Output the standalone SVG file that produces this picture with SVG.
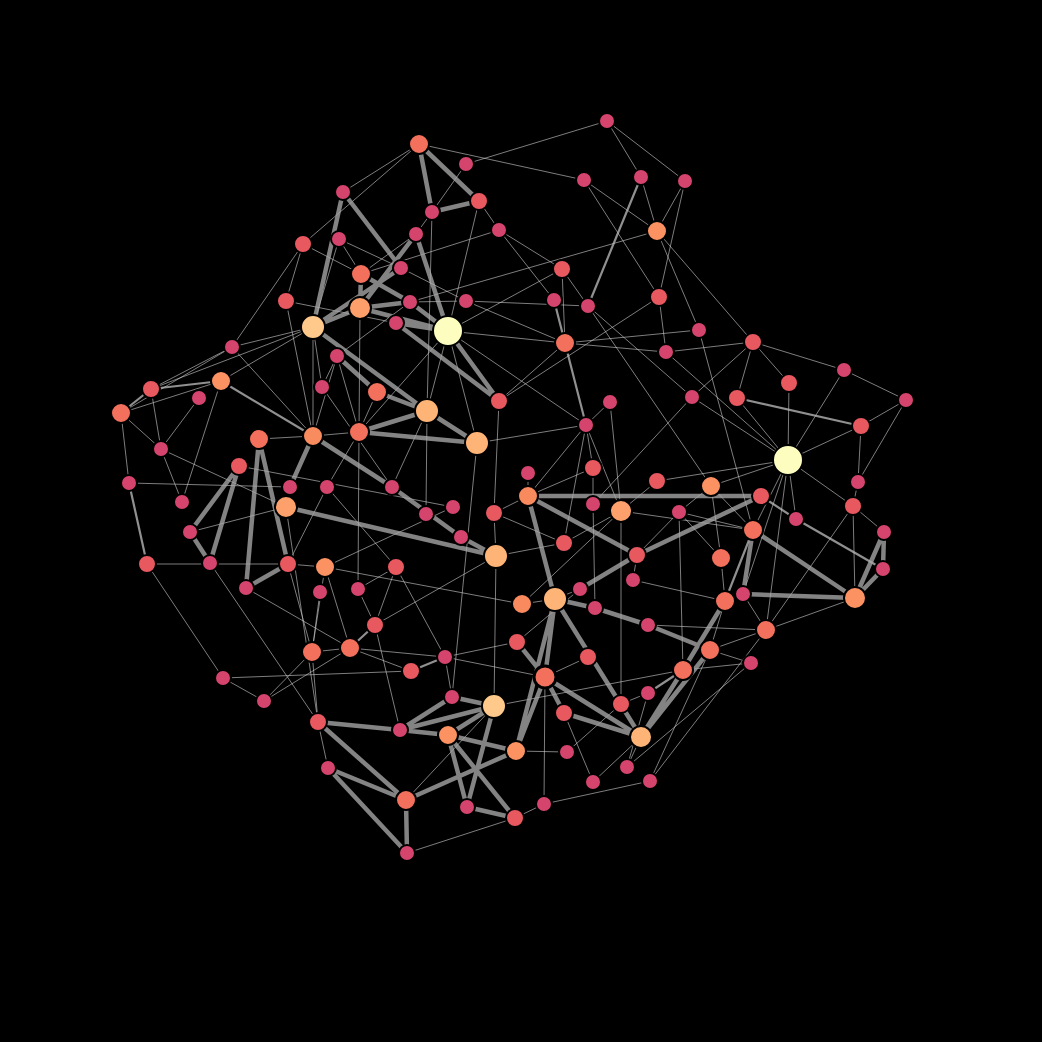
<svg xmlns="http://www.w3.org/2000/svg" width="1042" height="1042" viewBox="0 0 1042 1042">
<style>
.t{stroke:#d0d0d0;stroke-width:1;stroke-opacity:.6;fill:none}
.m{stroke:#c0c0c0;stroke-width:2.2;stroke-opacity:.75;fill:none}
.k{stroke:#a8a8a8;stroke-width:4.5;stroke-opacity:.78;fill:none}
circle{stroke:#000;stroke-width:2}
.p{fill:#d5446d}
.r{fill:#e8585f}
.c{fill:#f3705c}
.o{fill:#fc9262}
.a{fill:#feb477}
.b{fill:#fec98b}
.y{fill:#fcfdbf}
</style>
<rect width="1042" height="1042" fill="#000"/>
<g id="connectors">
<g class="t">
<path d="M419 144L343 192M419 144L303 244M419 144L584 180M466 164L607 121M466 164L432 212M607 121L641 177M607 121L685 181M641 177L657 231M685 181L657 231M685 181L659 297M584 180L657 231M584 180L659 297M657 231L699 330M657 231L753 342M657 231L410 302M659 297L499 401M659 297L666 352M499 230L562 269M499 230L479 201M499 230L554 300M499 230L361 274M562 269L565 343M562 269L588 306M410 302L466 301M466 301L588 306M466 301L565 343M401 268L466 301M448 331L565 343M448 331L562 269M479 201L448 331M432 212L427 411M432 212L416 234M361 274L416 234"/>
<path d="M303 244L286 301M303 244L232 347M303 244L361 274M339 239L361 274M339 239L401 268M339 239L313 327M286 301L396 323M286 301L313 436M232 347L151 389M232 347L121 413M232 347L313 327M232 347L313 436M313 327L313 436M313 327L322 387M313 327L151 389M360 308L359 432M359 432L358 589M337 356L322 387M337 356L313 436M337 356L359 432M337 356L410 302M377 392L359 432M448 331L427 411M448 331L477 443M448 331L586 425M448 331L359 432M499 401L494 513M499 401L565 343M427 411L392 487M427 411L426 514M359 432L327 487M359 432L313 436M477 443L452 697M477 443L586 425M494 513L496 556M494 513L528 496M496 556L494 706M496 556L564 543"/>
<path d="M586 425L610 402M586 425L621 511M610 402L621 511M586 425L528 496M586 425L564 543M586 425L593 468M593 468L528 496M593 468L593 504M593 504L595 608M621 511L621 704M621 511L657 481M621 511L564 543M621 511L522 604M621 511L753 530M692 397L593 504M657 481L788 460M711 486L679 512M711 486L721 558M711 486L753 530M711 486L788 460M679 512L683 670M679 512L637 555M679 512L753 530M637 555L633 580M633 580L725 601M721 558L725 601M721 558L679 512M565 343L699 330M565 343L666 352M588 306L692 397M588 306L711 486M699 330L753 530M666 352L788 460M692 397L788 460M666 352L753 342M753 342L737 398M753 342L844 370M753 342L789 383M753 342L692 397M844 370L906 400M844 370L788 460M789 383L788 460M737 398L788 460M906 400L861 426M906 400L858 482M861 426L858 482M861 426L788 460M788 460L853 506M788 460L796 519M788 460L753 530M788 460L766 630M788 460L743 594M853 506L855 598M853 506L884 532M858 482L853 506M853 506L766 630M855 598L766 630M766 630L743 594M648 625L766 630M710 650L751 663M650 781L766 630M650 781L544 804M650 781L710 650M544 804L515 818M545 677L544 804M494 706L683 670M406 800L494 706M407 853L515 818"/>
<path d="M318 722L328 768M318 722L312 652M312 652L350 648M350 648L264 701M312 652L264 701M223 678L264 701M223 678L411 671M312 652L325 567M312 652L320 592M350 648L411 671M350 648L445 657M375 625L400 730M375 625L496 556M375 625L396 567M358 589L375 625M358 589L396 567M396 567L445 657M396 567L327 487M325 567L453 507M325 567L522 604M325 567L288 564M325 567L350 648M288 564L312 652M288 564L327 487M286 507L318 722M246 588L350 648M210 563L318 722M147 564L223 678M147 564L288 564M129 483L290 487M190 532L286 507M161 449L286 507M161 449L182 502M199 398L161 449M221 381L182 502M121 413L161 449M121 413L129 483M121 413L221 381M151 389L161 449M221 381L313 327M322 387L392 487M259 439L313 436M239 466L453 507M445 657L452 697M445 657L545 677M445 657L517 642M528 496L528 473M522 604L555 599M580 589L555 599M517 642L580 589M564 543L494 513M588 657L545 677M621 704L648 693M627 767L648 693M593 782L564 713M567 752L621 704M516 751L567 752M641 737L627 767M641 737L593 782M627 767L751 663M683 670L751 663M766 630L710 650M710 650L725 601"/>
</g>
<g class="m">
<path d="M641 177L588 306M554 300L565 343M565 343L586 425M761 496L796 519M725 601L753 530M648 693L683 670M221 381L313 436M151 389L221 381M121 413L151 389M129 483L147 564M350 648L375 625M411 671L445 657M737 398L861 426M796 519L883 569"/>
</g>
<g class="k">
<path d="M419 144L432 212M419 144L479 201M432 212L479 201M343 192L313 327M343 192L401 268M416 234L448 331M416 234L360 308M401 268L313 327M313 327L360 308M361 274L360 308M361 274L410 302M360 308L410 302M360 308L448 331M410 302L448 331M396 323L448 331M396 323L499 401M448 331L499 401M313 327L427 411M337 356L377 392M377 392L427 411M427 411L477 443M359 432L427 411M359 432L477 443M313 436L290 487M259 439L246 588M259 439L288 564M246 588L288 564M239 466L210 563M239 466L190 532M190 532L210 563M286 507L496 556M313 436L392 487M392 487L461 537M461 537L496 556"/>
<path d="M528 496L761 496M528 496L637 555M528 496L555 599M637 555L761 496M580 589L637 555M753 530L855 598M753 530L743 594M743 594L855 598M855 598L884 532M855 598L883 569M884 532L883 569M683 670L725 601M641 737L683 670M641 737L710 650M648 625L710 650M595 608L648 625M555 599L595 608M555 599L545 677M555 599L516 751M555 599L641 737M545 677L641 737M545 677L517 642M545 677L516 751M545 677L564 713M564 713L641 737"/>
<path d="M494 706L448 735M494 706L452 697M494 706L400 730M494 706L467 807M448 735L516 751M448 735L515 818M448 735L467 807M400 730L448 735M400 730L452 697M318 722L400 730M318 722L406 800M328 768L406 800M328 768L407 853M406 800L407 853M406 800L516 751M467 807L515 818"/>
</g>
</g>
<g id="nodes">
<g id="n1"><circle class="c" cx="419" cy="144" r="10"/></g>
<g id="n2"><circle class="p" cx="466" cy="164" r="8"/></g>
<g id="n3"><circle class="p" cx="607" cy="121" r="8"/></g>
<g id="n4"><circle class="p" cx="641" cy="177" r="8"/></g>
<g id="n5"><circle class="p" cx="685" cy="181" r="8"/></g>
<g id="n6"><circle class="p" cx="584" cy="180" r="8"/></g>
<g id="n7"><circle class="p" cx="343" cy="192" r="8"/></g>
<g id="n8"><circle class="p" cx="432" cy="212" r="8"/></g>
<g id="n9"><circle class="r" cx="479" cy="201" r="9"/></g>
<g id="n10"><circle class="p" cx="499" cy="230" r="8"/></g>
<g id="n11"><circle class="p" cx="416" cy="234" r="8"/></g>
<g id="n12"><circle class="r" cx="303" cy="244" r="9"/></g>
<g id="n13"><circle class="p" cx="339" cy="239" r="8"/></g>
<g id="n14"><circle class="o" cx="657" cy="231" r="10"/></g>
<g id="n15"><circle class="r" cx="562" cy="269" r="9"/></g>
<g id="n16"><circle class="c" cx="361" cy="274" r="10"/></g>
<g id="n17"><circle class="p" cx="401" cy="268" r="8"/></g>
<g id="n18"><circle class="r" cx="286" cy="301" r="9"/></g>
<g id="n19"><circle class="o" cx="360" cy="308" r="11" style="fill:#fd9f6a"/></g>
<g id="n20"><circle class="p" cx="410" cy="302" r="8"/></g>
<g id="n21"><circle class="p" cx="466" cy="301" r="8"/></g>
<g id="n22"><circle class="p" cx="554" cy="300" r="8"/></g>
<g id="n23"><circle class="p" cx="588" cy="306" r="8"/></g>
<g id="n24"><circle class="r" cx="659" cy="297" r="9"/></g>
<g id="n25"><circle class="b" cx="313" cy="327" r="12"/></g>
<g id="n26"><circle class="p" cx="396" cy="323" r="8"/></g>
<g id="n27"><circle class="y" cx="448" cy="331" r="15"/></g>
<g id="n28"><circle class="c" cx="565" cy="343" r="10"/></g>
<g id="n29"><circle class="p" cx="699" cy="330" r="8"/></g>
<g id="n30"><circle class="p" cx="666" cy="352" r="8"/></g>
<g id="n31"><circle class="r" cx="753" cy="342" r="9"/></g>
<g id="n32"><circle class="p" cx="232" cy="347" r="8"/></g>
<g id="n33"><circle class="p" cx="337" cy="356" r="8"/></g>
<g id="n34"><circle class="p" cx="844" cy="370" r="8"/></g>
<g id="n35"><circle class="r" cx="151" cy="389" r="9"/></g>
<g id="n36"><circle class="o" cx="221" cy="381" r="10"/></g>
<g id="n37"><circle class="p" cx="199" cy="398" r="8"/></g>
<g id="n38"><circle class="c" cx="121" cy="413" r="10"/></g>
<g id="n39"><circle class="p" cx="322" cy="387" r="8"/></g>
<g id="n40"><circle class="c" cx="377" cy="392" r="10"/></g>
<g id="n41"><circle class="a" cx="427" cy="411" r="12"/></g>
<g id="n42"><circle class="r" cx="499" cy="401" r="9"/></g>
<g id="n43"><circle class="p" cx="610" cy="402" r="8"/></g>
<g id="n44"><circle class="p" cx="692" cy="397" r="8"/></g>
<g id="n45"><circle class="r" cx="737" cy="398" r="9"/></g>
<g id="n46"><circle class="r" cx="789" cy="383" r="9"/></g>
<g id="n47"><circle class="p" cx="906" cy="400" r="8"/></g>
<g id="n48"><circle class="r" cx="861" cy="426" r="9"/></g>
<g id="n49"><circle class="p" cx="161" cy="449" r="8"/></g>
<g id="n50"><circle class="c" cx="259" cy="439" r="10"/></g>
<g id="n51"><circle class="o" cx="313" cy="436" r="10" style="fill:#f88c5e"/></g>
<g id="n52"><circle class="c" cx="359" cy="432" r="10"/></g>
<g id="n53"><circle class="a" cx="477" cy="443" r="12"/></g>
<g id="n54"><circle class="p" cx="586" cy="425" r="8"/></g>
<g id="n55"><circle class="y" cx="788" cy="460" r="15"/></g>
<g id="n56"><circle class="r" cx="239" cy="466" r="9"/></g>
<g id="n57"><circle class="p" cx="129" cy="483" r="8"/></g>
<g id="n58"><circle class="p" cx="290" cy="487" r="8"/></g>
<g id="n59"><circle class="p" cx="327" cy="487" r="8"/></g>
<g id="n60"><circle class="p" cx="392" cy="487" r="8"/></g>
<g id="n61"><circle class="p" cx="528" cy="473" r="8"/></g>
<g id="n62"><circle class="r" cx="593" cy="468" r="9"/></g>
<g id="n63"><circle class="r" cx="657" cy="481" r="9"/></g>
<g id="n64"><circle class="o" cx="711" cy="486" r="10"/></g>
<g id="n65"><circle class="r" cx="761" cy="496" r="9"/></g>
<g id="n66"><circle class="p" cx="858" cy="482" r="8"/></g>
<g id="n67"><circle class="p" cx="182" cy="502" r="8"/></g>
<g id="n68"><circle class="o" cx="286" cy="507" r="11" style="fill:#fea06b"/></g>
<g id="n69"><circle class="p" cx="426" cy="514" r="8"/></g>
<g id="n70"><circle class="p" cx="453" cy="507" r="8"/></g>
<g id="n71"><circle class="r" cx="494" cy="513" r="9"/></g>
<g id="n72"><circle class="o" cx="528" cy="496" r="10" style="fill:#f98a5e"/></g>
<g id="n73"><circle class="p" cx="593" cy="504" r="8"/></g>
<g id="n74"><circle class="o" cx="621" cy="511" r="11" style="fill:#fea06b"/></g>
<g id="n75"><circle class="p" cx="679" cy="512" r="8"/></g>
<g id="n76"><circle class="p" cx="796" cy="519" r="8"/></g>
<g id="n77"><circle class="r" cx="853" cy="506" r="9"/></g>
<g id="n78"><circle class="p" cx="190" cy="532" r="8"/></g>
<g id="n79"><circle class="p" cx="461" cy="537" r="8"/></g>
<g id="n80"><circle class="r" cx="564" cy="543" r="9"/></g>
<g id="n81"><circle class="c" cx="753" cy="530" r="10"/></g>
<g id="n82"><circle class="p" cx="884" cy="532" r="8"/></g>
<g id="n83"><circle class="r" cx="147" cy="564" r="9"/></g>
<g id="n84"><circle class="p" cx="210" cy="563" r="8"/></g>
<g id="n85"><circle class="p" cx="246" cy="588" r="8"/></g>
<g id="n86"><circle class="r" cx="288" cy="564" r="9"/></g>
<g id="n87"><circle class="o" cx="325" cy="567" r="10"/></g>
<g id="n88"><circle class="r" cx="396" cy="567" r="9"/></g>
<g id="n89"><circle class="a" cx="496" cy="556" r="12"/></g>
<g id="n90"><circle class="r" cx="637" cy="555" r="9"/></g>
<g id="n91"><circle class="c" cx="721" cy="558" r="10"/></g>
<g id="n92"><circle class="p" cx="883" cy="569" r="8"/></g>
<g id="n93"><circle class="p" cx="320" cy="592" r="8"/></g>
<g id="n94"><circle class="p" cx="358" cy="589" r="8"/></g>
<g id="n95"><circle class="p" cx="580" cy="589" r="8"/></g>
<g id="n96"><circle class="p" cx="633" cy="580" r="8"/></g>
<g id="n97"><circle class="o" cx="522" cy="604" r="10" style="fill:#f98a5e"/></g>
<g id="n98"><circle class="a" cx="555" cy="599" r="12"/></g>
<g id="n99"><circle class="p" cx="595" cy="608" r="8"/></g>
<g id="n100"><circle class="c" cx="725" cy="601" r="10"/></g>
<g id="n101"><circle class="p" cx="743" cy="594" r="8"/></g>
<g id="n102"><circle class="o" cx="855" cy="598" r="11"/></g>
<g id="n103"><circle class="r" cx="375" cy="625" r="9"/></g>
<g id="n104"><circle class="p" cx="648" cy="625" r="8"/></g>
<g id="n105"><circle class="c" cx="766" cy="630" r="10"/></g>
<g id="n106"><circle class="c" cx="312" cy="652" r="10"/></g>
<g id="n107"><circle class="c" cx="350" cy="648" r="10"/></g>
<g id="n108"><circle class="p" cx="445" cy="657" r="8"/></g>
<g id="n109"><circle class="r" cx="517" cy="642" r="9"/></g>
<g id="n110"><circle class="r" cx="588" cy="657" r="9"/></g>
<g id="n111"><circle class="c" cx="710" cy="650" r="10"/></g>
<g id="n112"><circle class="r" cx="411" cy="671" r="9"/></g>
<g id="n113"><circle class="p" cx="751" cy="663" r="8"/></g>
<g id="n114"><circle class="p" cx="223" cy="678" r="8"/></g>
<g id="n115"><circle class="p" cx="264" cy="701" r="8"/></g>
<g id="n116"><circle class="c" cx="545" cy="677" r="11" style="stroke-width:3"/></g>
<g id="n117"><circle class="c" cx="683" cy="670" r="10"/></g>
<g id="n118"><circle class="p" cx="452" cy="697" r="8"/></g>
<g id="n119"><circle class="b" cx="494" cy="706" r="12"/></g>
<g id="n120"><circle class="r" cx="564" cy="713" r="9"/></g>
<g id="n121"><circle class="r" cx="621" cy="704" r="9"/></g>
<g id="n122"><circle class="p" cx="648" cy="693" r="8"/></g>
<g id="n123"><circle class="r" cx="318" cy="722" r="9"/></g>
<g id="n124"><circle class="p" cx="400" cy="730" r="8"/></g>
<g id="n125"><circle class="o" cx="448" cy="735" r="10"/></g>
<g id="n126"><circle class="o" cx="516" cy="751" r="10"/></g>
<g id="n127"><circle class="p" cx="567" cy="752" r="8"/></g>
<g id="n128"><circle class="a" cx="641" cy="737" r="11"/></g>
<g id="n129"><circle class="p" cx="627" cy="767" r="8"/></g>
<g id="n130"><circle class="p" cx="328" cy="768" r="8"/></g>
<g id="n131"><circle class="p" cx="593" cy="782" r="8"/></g>
<g id="n132"><circle class="p" cx="650" cy="781" r="8"/></g>
<g id="n133"><circle class="c" cx="406" cy="800" r="10"/></g>
<g id="n134"><circle class="p" cx="467" cy="807" r="8"/></g>
<g id="n135"><circle class="p" cx="544" cy="804" r="8"/></g>
<g id="n136"><circle class="r" cx="515" cy="818" r="9"/></g>
<g id="n137"><circle class="p" cx="407" cy="853" r="8"/></g>
</g>
</svg>
